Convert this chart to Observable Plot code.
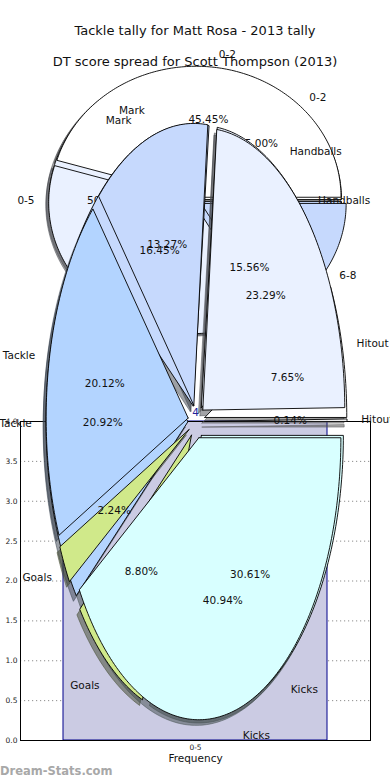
<!DOCTYPE html>
<html>
<head>
<meta charset="utf-8">
<script src="https://cdn.jsdelivr.net/npm/d3@7"></script>
<script src="https://cdn.jsdelivr.net/npm/@observablehq/plot@0.6"></script>
<style>
  body { margin: 0; background: #fff; }
  #stage { position: relative; width: 390px; height: 780px; overflow: hidden; font-family: "DejaVu Sans", sans-serif; }
  #stage svg { position: absolute; left: 0; top: 0; }
  .title { position: absolute; left: 0; width: 390px; text-align: center; font-size: 13px; color: #111; line-height: 1; white-space: nowrap; }
  .mark { position: absolute; left: 0; top: 764px; font-size: 11.5px; font-weight: bold; color: #a8a8a8; }
</style>
</head>
<body>
<div id="stage"></div>
<script>
// ---------------- data ----------------
const titleTally = "Tackle tally for Matt Rosa - 2013 tally";
const titleDT = "DT score spread for Scott Thompson (2013)";

// bar chart (Frequency)
const barCategories = ["0-5"];
const barValues = [4];
const yTicks = [0, 0.5, 1, 1.5, 2, 2.5, 3, 3.5, 4];

// DT score spread pies (two overlaid)
const dtLabels = ["0-2", "0-5", "6-8"];
const dtSpreadA = [45.45, 37.88, 16.67];
const dtSpreadB = [25.00, 50.00, 25.00];

// tackle tally pies (two overlaid)
const tallyLabels = ["Hitout", "Handballs", "Mark", "Tackle", "Goals", "Kicks"];
const tallyA = [0.14, 23.29, 13.27, 20.12, 2.24, 40.94];
const tallyB = [7.65, 15.56, 16.45, 20.92, 8.80, 30.61];

// ---------------- styles / layout ----------------
const sliceColors = ["#ffffff", "#eaf1ff", "#c6d9fd", "#b3d4ff", "#d0e98a", "#d8ffff"];
const GEO_DT = {cx: 195, cy: 200, rx: 145, ry: 131};
const GEO_TALLY = {cx: 196, cy: 421, rx: 142, ry: 282};
const W = 390, H = 780;
const FONT = "DejaVu Sans, sans-serif";

function buildPie(values, labels, geo, explode) {
  const total = d3.sum(values);
  const ends = Array.from(d3.cumsum(values), c => c / total * 2 * Math.PI);
  return values.map((v, i) => {
    const a0 = i ? ends[i - 1] : 0, a1 = ends[i], mid = (a0 + a1) / 2;
    const ex = Array.isArray(explode) ? explode[i] : explode;
    const ox = geo.cx + ex * geo.rx * Math.cos(mid);
    const oy = geo.cy - ex * geo.ry * Math.sin(mid);
    const n = Math.max(2, Math.ceil((a1 - a0) / (Math.PI / 180)));
    const ring = [[ox, oy]];
    for (let k = 0; k <= n; k++) {
      const t = a0 + (a1 - a0) * k / n;
      ring.push([ox + geo.rx * Math.cos(t), oy - geo.ry * Math.sin(t)]);
    }
    ring.push([ox, oy]);
    return {
      i, label: labels[i], mid, ring,
      pct: d3.format(".2f")(v / total * 100) + "%",
      lx: ox + 1.1 * geo.rx * Math.cos(mid), ly: oy - 1.1 * geo.ry * Math.sin(mid),
      px: ox + 0.6 * geo.rx * Math.cos(mid), py: oy - 0.6 * geo.ry * Math.sin(mid)
    };
  });
}

function shadowMarks(slices, geo) {
  const sdx = -0.02 * geo.rx, sdy = 0.02 * geo.ry;
  return slices.map(s => {
    const c = d3.rgb(sliceColors[s.i]);
    const sc = d3.rgb(c.r * 0.3, c.g * 0.3, c.b * 0.3).formatHex();
    return Plot.line(s.ring, {x: d => d[0] + sdx, y: d => d[1] + sdy, fill: sc, fillOpacity: 0.5,
      stroke: sc, strokeOpacity: 0.5, strokeWidth: 1});
  });
}
function wedgeMarks(slices) {
  return slices.map(s => Plot.line(s.ring, {x: d => d[0], y: d => d[1], fill: sliceColors[s.i],
    stroke: "#000", strokeWidth: 0.9, strokeLinejoin: "miter"}));
}
function textMarks(slices) {
  const common = {fontSize: 10.5, fill: "#111", fontFamily: FONT};
  return [
    Plot.text(slices.filter(s => Math.cos(s.mid) >= 0), {x: "lx", y: "ly", text: "label", textAnchor: "start", ...common}),
    Plot.text(slices.filter(s => Math.cos(s.mid) < 0), {x: "lx", y: "ly", text: "label", textAnchor: "end", ...common}),
    Plot.text(slices, {x: "px", y: "py", text: "pct", ...common})
  ];
}

const stage = document.getElementById("stage");

// ---------- layer 1: bar chart ----------
const barData = barCategories.map((c, i) => ({cat: c, value: barValues[i]}));
const bar = Plot.plot({
  width: W, height: H,
  marginLeft: 20, marginRight: 20, marginTop: 421, marginBottom: 40,
  style: {background: "transparent", fontFamily: FONT},
  x: {domain: barCategories, padding: 0.14, label: null},
  y: {domain: [0, 4], label: null},
  marks: [
    Plot.gridY(yTicks, {stroke: "#000", strokeOpacity: 0.45, strokeDasharray: "1.2,2.8", strokeWidth: 1}),
    Plot.gridX(barCategories, {stroke: "#000", strokeOpacity: 0.45, strokeDasharray: "1.2,2.8", strokeWidth: 1}),
    Plot.barY(barData, {x: "cat", y: "value", fill: "#cbcbe3", stroke: "#00008b", strokeWidth: 1}),
    Plot.frame({stroke: "#000", strokeWidth: 1}),
    Plot.axisY(yTicks, {tickFormat: d3.format(".1f"), tickSize: 0, tickPadding: 3, fontSize: 7.5, label: null, fill: "#222"}),
    Plot.axisX({tickSize: 0, tickPadding: 4, fontSize: 7.5, label: null, fill: "#222"}),
    Plot.text(["Frequency"], {frameAnchor: "bottom", dy: 21, fontSize: 10.5, fill: "#111"}),
    Plot.text(barData, {x: "cat", y: "value", text: d => String(d.value), dy: -9, fontSize: 10.5, fill: "#22229a"})
  ]
});
stage.appendChild(bar);

// ---------- layer 2: DT score spread pies ----------
const dtA = buildPie(dtSpreadA, dtLabels, GEO_DT, [0.025, 0.02, 0.045]);
const dtB = buildPie(dtSpreadB, dtLabels, GEO_DT, 0.01);
const pieScales = {
  x: {domain: [0, W], range: [0, W], axis: null},
  y: {domain: [0, H], range: [0, H], axis: null}
};
const dtPlot = Plot.plot({
  width: W, height: H, margin: 0, ...pieScales,
  style: {background: "transparent", fontFamily: FONT, overflow: "visible"},
  marks: [
    ...shadowMarks(dtB, GEO_DT), ...shadowMarks(dtA, GEO_DT),
    ...wedgeMarks(dtB), ...wedgeMarks(dtA),
    ...textMarks(dtB), ...textMarks(dtA)
  ]
});
stage.appendChild(dtPlot);

// ---------- layer 3: tackle tally pies ----------
const tA = buildPie(tallyA, tallyLabels, GEO_TALLY, 0.06);
const tB = buildPie(tallyB, tallyLabels, GEO_TALLY, 0.06);
const tallyPlot = Plot.plot({
  width: W, height: H, margin: 0, ...pieScales,
  style: {background: "transparent", fontFamily: FONT, overflow: "visible"},
  marks: [
    ...shadowMarks(tB, GEO_TALLY), ...shadowMarks(tA, GEO_TALLY),
    ...wedgeMarks(tB), ...wedgeMarks(tA),
    ...textMarks(tB), ...textMarks(tA)
  ]
});
stage.appendChild(tallyPlot);

// ---------- titles & watermark ----------
const t1 = document.createElement("div");
t1.className = "title"; t1.style.top = "24px"; t1.textContent = titleTally;
const t2 = document.createElement("div");
t2.className = "title"; t2.style.top = "55px"; t2.textContent = titleDT;
const wm = document.createElement("div");
wm.className = "mark"; wm.textContent = "Dream-Stats.com";
stage.append(t1, t2, wm);
</script>
</body>
</html>
